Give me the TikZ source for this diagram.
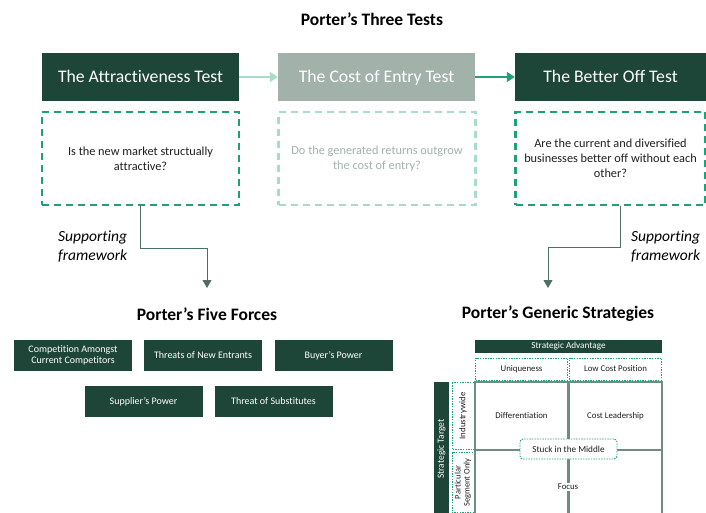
\documentclass[tikz,border=0pt]{standalone}
\usepackage{fontspec}
\setmainfont{Carlito}[Ligatures=NoCommon]
\usepackage{tikz}
\usetikzlibrary{arrows.meta}
\usetikzlibrary{positioning}
\definecolor{porterdark}{RGB}{30,70,56}
\definecolor{portergreen}{RGB}{32,160,118}
\definecolor{portermint}{RGB}{166,220,200}
\definecolor{portergrey}{RGB}{162,178,170}
\definecolor{porterline}{RGB}{80,110,98}
\definecolor{portergrid}{RGB}{110,140,128}
\definecolor{portertext}{RGB}{30,30,30}
\tikzset{
  sectitle/.style={font=\fontsize{17.5}{20}\selectfont\bfseries, inner sep=0pt},
  testhead/.style={fill=#1, text=white, minimum height=48pt, inner sep=0pt,
    text height=11.5pt, text depth=0pt, font=\fontsize{17.7}{20}\selectfont},
  question/.style={draw=#1, line width=2.2pt, dash pattern=on 7pt off 5pt,
    minimum height=93pt, inner sep=0pt, align=center,
    font=\fontsize{12.3}{14.8}\selectfont},
  forcebox/.style={fill=porterdark, text=white, minimum width=118pt, minimum height=31pt,
    inner sep=0pt, align=center, font=\fontsize{10}{11.5}\selectfont},
  dotbox/.style={draw=portergreen, line width=0.9pt, dash pattern=on 1.4pt off 1.2pt,
    inner sep=0pt, align=center, font=\fontsize{8.8}{10}\selectfont, text=portertext},
  celltext/.style={font=\fontsize{8.8}{10}\selectfont, text=portertext, inner sep=1.5pt},
  support/.style={font=\fontsize{15.5}{19}\selectfont\itshape, align=left, inner sep=0pt},
  link/.style={draw=porterline, line width=1pt, -{Triangle[width=9pt,length=8pt]}},
}
\begin{document}
\begin{tikzpicture}[x=1pt,y=-1pt]
      \useasboundingbox (0,0) rectangle (706,513);
      \node[sectitle] (title3) at (372,19) {Porter’s Three Tests};
      \node[testhead=porterdark, minimum width=197pt] (head1) at (140.5,77) {The Attractiveness Test};
      \node[testhead=portergrey, minimum width=197pt] (head2) at (376.5,77) {The Cost of Entry Test};
      \node[testhead=porterdark, minimum width=191pt] (head3) at (610.5,77) {The Better Off Test};
      \draw[draw=portermint, line width=1.5pt, -{Triangle[width=10pt,length=8pt]}] (head1) -- (head2);
      \draw[draw=portergreen, line width=1.5pt, -{Triangle[width=10pt,length=8pt]}] (head2) -- (head3);
      \node[question=portergreen, minimum width=197pt, text=portertext] (q1) at (140.5,158.5)
        {Is the new market structually\\attractive?};
      \node[question=portermint, minimum width=197pt, text=portergrey] (q2) at (377,158.5)
        {Do the generated returns outgrow\\the cost of entry?};
      \node[question=portergreen, minimum width=190pt, text=portertext] (q3) at (610.5,158.5)
        {Are the current and diversified\\businesses better off without each\\other?};
      \coordinate (forcesin) at (207,288);
      \coordinate (genericin) at (548,288);
      \draw[link] (q1.south) -- ++(0,42) -| (forcesin);
      \draw[link] ([xshift=9.5pt]q3.south) -- ++(0,41) -| (genericin);
      \node[support, anchor=west] (sup1) at (58,247) {Supporting\\framework};
      \node[support, anchor=west] (sup2) at (631,247) {Supporting\\framework};
      % five forces
      \node[sectitle] (title5) at (207,314) {Porter’s Five Forces};
      \node[forcebox] (rivalry)    at (73,355.5)    {Competition Amongst\\Current Competitors};
      \node[forcebox] (entrants)   at (203,355.5)   {Threats of New Entrants};
      \node[forcebox] (buyers)     at (333.5,355.5) {Buyer’s Power};
      \node[forcebox] (suppliers)  at (143.5,401.5) {Supplier’s Power};
      \node[forcebox] (substitute) at (273.5,401.5) {Threat of Substitutes};
      % generic strategies
      \node[sectitle] (titleg) at (558,314) {Porter’s Generic Strategies};
      \node[fill=porterdark, text=white, minimum width=187pt, minimum height=13pt, inner sep=0pt,
        font=\fontsize{9.2}{10}\selectfont] (advantage) at (568.5,346.5) {Strategic Advantage};
      \node[dotbox, minimum width=92pt, minimum height=22pt] (unique)  at (521.5,369) {Uniqueness};
      \node[dotbox, minimum width=92pt, minimum height=22pt] (lowcost) at (615.5,369) {Low Cost Position};
      \fill[porterdark] (434,382) rectangle (449,513);
      \node[rotate=90, text=white, font=\fontsize{9.5}{10}\selectfont] (target) at (441.5,449) {Strategic Target};
      \node[dotbox, rotate=90, minimum width=67pt, minimum height=22pt] (industry) at (463,416) {Industrywide};
      \node[dotbox, rotate=90, minimum width=60pt, minimum height=22pt, font=\fontsize{8.5}{9}\selectfont]
        (segment) at (463,482.5) {Particular\\Segment Only};
      \draw[portergrid, line width=1.2pt] (475,513) -- (475,382) -- (662,382) -- (662,513);
      \draw[portergrid, line width=2.6pt] (568.5,382) -- (568.5,513);
      \draw[portergrid, line width=2.6pt] (475,450) -- (662,450);
      \node[celltext] (differ) at (521.5,416) {Differentiation};
      \node[celltext] (costlead) at (615.5,416) {Cost Leadership};
      \node[celltext, fill=white] (focus) at (568,487) {Focus};
      \node[dotbox, fill=white, rounded corners=3pt, minimum width=97pt, minimum height=20pt,
        font=\fontsize{9.2}{10}\selectfont] (stuck) at (568.5,449) {Stuck in the Middle};
    \end{tikzpicture}
\end{document}
